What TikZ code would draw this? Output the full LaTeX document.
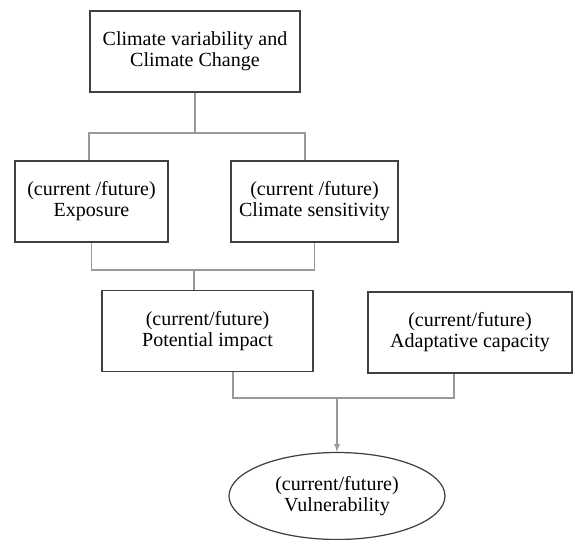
\documentclass[tikz,border=0pt]{standalone}
\usepackage{fontspec}
\setmainfont{Liberation Serif}
\usetikzlibrary{shapes.geometric}

\begin{document}
\begin{tikzpicture}[shorten >=0pt,-]
    \tikzstyle{box}=[rectangle,draw=black!75,line width=0.7pt,fill=white,align=center,minimum height=1.62cm,inner sep=2pt,font=\fontsize{11.4}{12}\selectfont]
    \tikzstyle{link}=[draw=black!40,line width=0.6pt]
    \useasboundingbox (0,0) rectangle (11.46,-10.8);

    \foreach \name/\x/\y/\w/\txt in {top/3.9/-1.03/4.2/{Climate variability and\\Climate Change},
                                     ex/1.83/-4.03/3.06/{(current /future)\\Exposure},
                                     sens/6.29/-4.03/3.34/{(current /future)\\Climate sensitivity},
                                     pot/4.15/-6.62/4.22/{(current/future)\\Potential impact},
                                     ada/9.4/-6.65/4.08/{(current/future)\\Adaptative capacity}}
            \node[box,minimum width=\w cm] (\name) at (\x,\y) {\txt};

    \node[ellipse,draw=black!75,line width=0.7pt,minimum width=4.32cm,minimum height=1.74cm,align=center,
          inner sep=1pt,font=\fontsize{11.4}{12}\selectfont] (vul) at (6.74,-9.92) {(current/future)\\Vulnerability};

    \coordinate (j1) at (3.9,-2.66);
    \coordinate (j2) at (3.88,-5.4);
    \coordinate (j3) at (6.74,-7.96);

    \draw[link] (top) -- (j1);
    \draw[link] ([xshift=-0.05cm]ex.north) |- (j1) -| ([xshift=-0.19cm]sens.north);
    \draw[link] (ex.south) |- (j2) -| (sens.south);
    \draw[link] (j2) -- (j2 |- pot.north);
    \draw[link] ([xshift=0.51cm]pot.south) |- (j3) -| ([xshift=-0.32cm]ada.south);
    \draw[link,-latex] (j3) -- (vul);
\end{tikzpicture}
\end{document}
